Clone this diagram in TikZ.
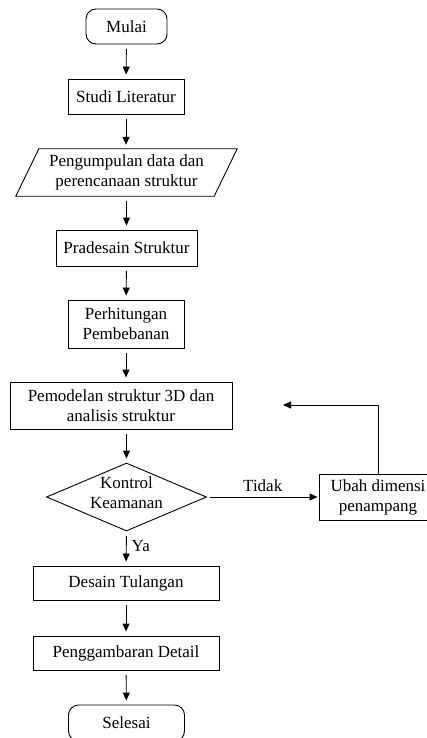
\documentclass[tikz,border=0pt]{standalone}
\usepackage{fontspec}
\setmainfont{Liberation Serif}
\usetikzlibrary{shapes.geometric,arrows.meta,calc}
\begin{document}
\begin{tikzpicture}[x=1pt,y=-1pt,
  every node/.style={font=\fontsize{17}{20}\selectfont, align=center, inner sep=0pt},
  proc/.style={draw, line width=0.9pt, rectangle},
  term/.style={draw, line width=0.9pt, rectangle, rounded corners=10pt},
  plain/.style={draw=none},
  flow/.style={line width=0.9pt, -{Triangle[width=7pt,length=8pt]}, shorten <=4.5pt, shorten >=4pt},
  decision/.style={draw, line width=0.9pt, diamond, aspect=2.35, inner sep=0pt, minimum width=160pt, minimum height=68pt}
]
\useasboundingbox (0,0) rectangle (427,738);
\node[term, minimum width=81pt, minimum height=35pt] (mulai) at (126.5,26.5) {Mulai};
\node[proc, minimum width=116pt, minimum height=35pt] (studi) at (126,96.5) {Studi Literatur};
\node[plain, minimum width=198pt, minimum height=47pt] (data) at (126.5,172.5) {Pengumpulan data dan\\perencanaan struktur};
\draw[line width=0.9pt] ([xshift=11.5pt]data.north west) -- ([xshift=11.5pt]data.north east) -- ([xshift=-11.5pt]data.south east) -- ([xshift=-11.5pt]data.south west) -- cycle;
\node[proc, minimum width=141pt, minimum height=36pt] (pra) at (126.5,248) {Pradesain Struktur};
\node[proc, minimum width=116pt, minimum height=48pt] (perh) at (126,324) {Perhitungan\\Pembebanan};
\node[proc, minimum width=222pt, minimum height=47pt] (pemod) at (121,405.5) {Pemodelan struktur 3D dan\\analisis struktur};
\node[decision] (kontrol) at (126.5,497) {};
\node at (126.5,493) {Kontrol\\Keamanan};
\node[proc, minimum width=118pt, minimum height=46pt] (ubah) at (378,497) {Ubah dimensi\\penampang};
\node[proc, minimum width=186pt, minimum height=34pt] (desain) at (126,583) {Desain Tulangan};
\node[proc, minimum width=186pt, minimum height=34pt] (gambar) at (126,653) {Penggambaran Detail};
\node[term, minimum width=116pt, minimum height=36pt] (selesai) at (126.5,723) {Selesai};
\coordinate (ret) at (283,405);

\draw[flow] (mulai) -- (studi);
\draw[flow] (studi) -- (studi.south |- data.north);
\draw[flow] (data) -- (pra);
\draw[flow] (pra) -- (perh);
\draw[flow] (perh.south) -- (perh.south |- pemod.north);
\draw[flow] (pemod.south -| kontrol.north) -- (kontrol.north);
\draw[flow, shorten <=3pt, shorten >=1pt] (kontrol.east) -- (ubah.west) node[midway, above=5pt] {Tidak};
\draw[line width=0.9pt, -{Triangle[width=7pt,length=8pt]}] (ubah.north) |- (ret);
\draw[flow] (kontrol.south) -- (desain.north) node[midway, right=5pt, yshift=2pt] {Ya};
\draw[flow] (desain) -- (gambar);
\draw[flow] (gambar) -- (selesai);
\end{tikzpicture}
\end{document}
